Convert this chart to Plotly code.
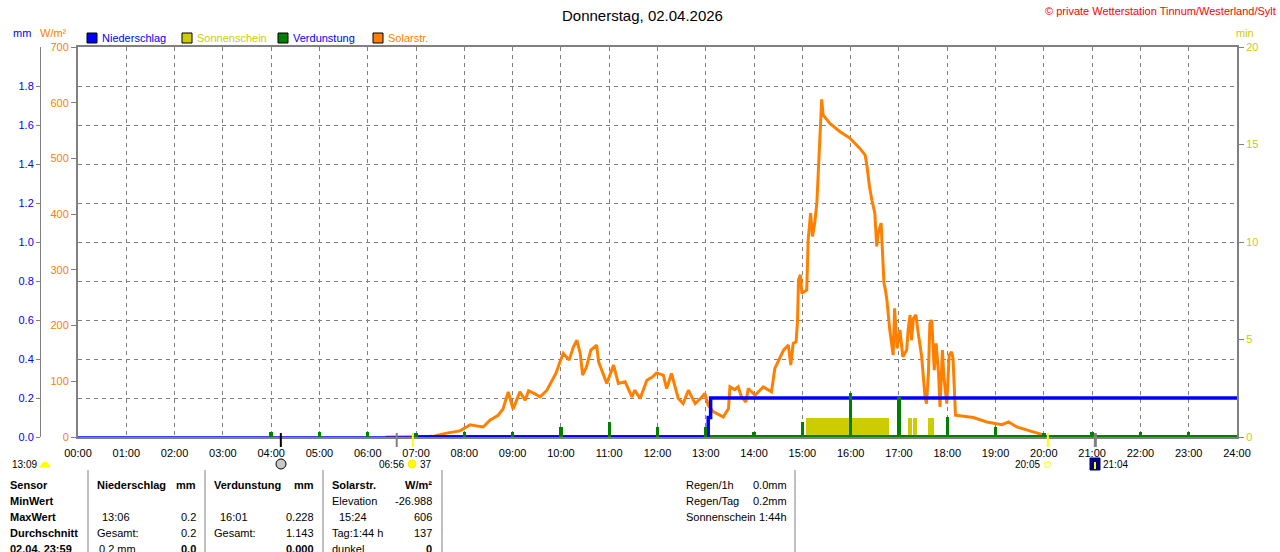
#!/usr/bin/env python3
"""
Tagesgrafik Niederschlag / Sonnenschein / Verdunstung / Solarstrahlung
(Wetterstation Tinnum/Westerland/Sylt) nachgebaut mit plotly.
"""

import plotly.graph_objects as go

# --- data --------------------------------------------------------------
hour_ticks = list(range(25))
hour_labels = [f"{h:02d}:00" for h in hour_ticks]

# Solarstrahlung W/m2 (time in hours)
solar_t = [6.37, 7.00, 7.25, 7.39, 7.63, 7.91, 8.12, 8.25, 8.39, 8.53, 8.70, 8.80,
           8.91, 9.01, 9.15, 9.26, 9.33, 9.45, 9.57, 9.71, 9.81, 9.90, 9.98, 10.05,
           10.17, 10.26, 10.33, 10.40, 10.45, 10.53, 10.62, 10.74, 10.78, 10.88, 10.95,
           11.09, 11.19, 11.33, 11.47, 11.53, 11.64, 11.78, 11.90, 11.98, 12.12, 12.19,
           12.29, 12.43, 12.53, 12.64, 12.78, 12.90, 12.98, 13.05, 13.16, 13.36, 13.47,
           13.50, 13.60, 13.67, 13.74, 13.83, 13.88, 14.02, 14.19, 14.36, 14.43, 14.61,
           14.71, 14.76, 14.81, 14.87, 14.90, 14.92, 14.96, 14.99, 15.09, 15.12, 15.17,
           15.21, 15.26, 15.30, 15.33, 15.37, 15.40, 15.43, 15.57, 15.78, 15.99, 16.19,
           16.30, 16.34, 16.39, 16.44, 16.50, 16.54, 16.57, 16.63, 16.66, 16.69, 16.72,
           16.75, 16.81, 16.88, 16.91, 16.96, 17.02, 17.08, 17.16, 17.19, 17.23, 17.26,
           17.30, 17.35, 17.40, 17.47, 17.54, 17.57, 17.61, 17.64, 17.68, 17.73, 17.77,
           17.82, 17.85, 17.90, 17.93, 17.99, 18.04, 18.09, 18.12, 18.15, 18.17, 18.26,
           18.54, 18.82, 19.13, 19.27, 19.44, 19.71, 19.99, 20.06]
solar_w = [0, 0, 1, 2, 7, 11, 22, 20, 18, 30, 39, 50,
           81, 50, 81, 66, 83, 78, 72, 84, 99, 115, 135, 150,
           138, 162, 174, 150, 111, 126, 156, 165, 135, 110, 96,
           129, 96, 99, 72, 84, 69, 102, 108, 115, 111, 87,
           114, 69, 60, 84, 60, 70, 78, 57, 45, 36, 51,
           90, 85, 90, 72, 63, 87, 75, 90, 81, 123, 156,
           165, 129, 168, 171, 210, 282, 291, 258, 264, 354, 402,
           360, 387, 420, 485, 563, 606, 578, 563, 548, 536, 518,
           506, 485, 449, 425, 402, 342, 366, 384, 318, 276, 264,
           246, 192, 147, 231, 159, 192, 144, 156, 192, 219, 174,
           213, 219, 186, 144, 72, 60, 114, 204, 210, 120, 168,
           114, 54, 156, 108, 60, 147, 153, 141, 84, 39, 38,
           35, 27, 22, 27, 18, 11, 4, 0]

# Niederschlag (Tagessumme, mm)
rain_t = [0.0, 7.0, 13.05, 13.10, 24.0]
rain_mm = [0.0, 0.0, 0.1, 0.2, 0.2]

# Verdunstung je Stunde (mm)
evap_hour = [4, 5, 6, 7, 8, 9, 10, 11, 12, 13, 14, 15, 16, 17, 18, 19, 20, 21, 22, 23]
evap_mm = [0.025, 0.025, 0.025, 0.022, 0.025, 0.027, 0.050, 0.076, 0.050, 0.050,
           0.024, 0.077, 0.228, 0.207, 0.105, 0.053, 0.020, 0.025, 0.025, 0.025]
evap_line_t = [7.0, 24.0]
evap_line_mm = [0.0, 0.0]

# Sonnenschein (min pro Minute)
sun_start = [15.07, 17.19, 17.30, 17.60]
sun_end = [16.79, 17.27, 17.37, 17.72]
sun_min = [1, 1, 1, 1]

mm_ticks = [0.0, 0.2, 0.4, 0.6, 0.8, 1.0, 1.2, 1.4, 1.6, 1.8]
w_ticks = [0, 100, 200, 300, 400, 500, 600, 700]
min_ticks = [0, 5, 10, 15, 20]

# events below the time axis (hours)
moon_h = 4.2
dawn_h = 6.6
sunrise_h = 6.933
sunset_h = 20.083
moonset_h = 21.067

BLUE = "#0000ff"
ORANGE = "#ff8000"
GREEN = "#008000"
YELLOW = "#cccc00"
GREY = "#808080"
FONT = "Liberation Sans"

W, H = 1280, 552
PLOT_TOP, PLOT_BOT = 47, 437


def px(x):
    return x / W


def py(y):
    return (PLOT_BOT - y) / (PLOT_BOT - PLOT_TOP)


fig = go.Figure()

# sunshine bars (base axis, bottom layer)
fig.add_trace(go.Bar(
    x=[(a + b) / 2 for a, b in zip(sun_start, sun_end)],
    y=sun_min,
    width=[b - a for a, b in zip(sun_start, sun_end)],
    marker=dict(color=YELLOW, line=dict(width=0)),
    xaxis="x", yaxis="y", name="Sonnenschein"))

# solar radiation
fig.add_trace(go.Scatter(
    x=solar_t, y=solar_w, mode="lines",
    line=dict(color=ORANGE, width=3),
    xaxis="x", yaxis="y2", name="Solarstr."))

# evaporation baseline + rain
fig.add_trace(go.Scatter(
    x=evap_line_t, y=evap_line_mm, mode="lines",
    line=dict(color=GREEN, width=4),
    xaxis="x", yaxis="y3", name="Verdunstung"))
fig.add_trace(go.Scatter(
    x=rain_t, y=rain_mm, mode="lines", line_shape="hv",
    line=dict(color=BLUE, width=1.5),
    xaxis="x", yaxis="y3", name="Niederschlag"))
fig.add_trace(go.Scatter(
    x=rain_t[1:], y=rain_mm[1:], mode="lines", line_shape="hv",
    line=dict(color=BLUE, width=3.5),
    xaxis="x", yaxis="y3", showlegend=False))

# evaporation spikes on top
fig.add_trace(go.Bar(
    x=evap_hour, y=evap_mm, width=0.07,
    marker=dict(color=GREEN, line=dict(width=0)),
    xaxis="x", yaxis="y4", name="Verdunstung"))

tickfont = dict(family=FONT, size=11)

fig.update_layout(
    width=W, height=H,
    margin=dict(l=0, r=0, t=PLOT_TOP, b=H - PLOT_BOT),
    paper_bgcolor="white", plot_bgcolor="white",
    showlegend=False, barmode="overlay", bargap=0,
    font=dict(family=FONT, size=11, color="black"),
    xaxis=dict(
        domain=[78 / W, 1237 / W], range=[0, 24],
        tickvals=hour_ticks, ticktext=hour_labels,
        tickfont=dict(family=FONT, size=11, color="black"),
        ticks="", ticklabelstandoff=5,
        showgrid=True, gridcolor=GREY, griddash="4px,4px", gridwidth=1,
        showline=True, linecolor=GREY, linewidth=2, mirror=True,
        zeroline=False, automargin=False, fixedrange=True),
    # Sonnenschein (min) right
    yaxis=dict(
        range=[0, 20], side="right", anchor="x",
        tickvals=min_ticks, ticktext=[str(v) for v in min_ticks],
        tickfont=dict(tickfont, color=YELLOW),
        ticks="outside", ticklen=5, tickcolor=GREY,
        showgrid=False, zeroline=False,
        showline=True, linecolor=GREY, linewidth=2,
        automargin=False, fixedrange=True),
    # Solarstr. W/m2 left at plot edge
    yaxis2=dict(
        range=[0, 700], side="left", anchor="x", overlaying="y",
        tickvals=w_ticks, ticktext=[str(v) for v in w_ticks],
        tickfont=dict(tickfont, color=ORANGE),
        ticks="outside", ticklen=5, tickcolor=GREY,
        showgrid=False, zeroline=False,
        showline=True, linecolor=GREY, linewidth=2,
        automargin=False, fixedrange=True),
    # mm axis, free position, carries the horizontal grid
    yaxis3=dict(
        range=[0, 2], side="left", anchor="free", position=40 / W, overlaying="y",
        tickvals=mm_ticks, ticktext=[f"{v:.1f}" for v in mm_ticks],
        tickfont=dict(tickfont, color=BLUE),
        ticks="outside", ticklen=4, tickcolor=GREY,
        showgrid=True, gridcolor=GREY, griddash="4px,4px", gridwidth=1,
        zeroline=False,
        showline=True, linecolor=GREY, linewidth=1,
        automargin=False, fixedrange=True),
    yaxis4=dict(
        range=[0, 2], overlaying="y", anchor="x", visible=False, fixedrange=True),
)

ann = []


def txt(x, y, s, color="black", size=11, anchor="left", bold=False):
    if bold:
        s = f"<b>{s}</b>"
    ann.append(dict(x=px(x), y=py(y), xref="paper", yref="paper", text=s,
                    showarrow=False, xanchor=anchor, yanchor="middle",
                    font=dict(family=FONT, size=size, color=color)))


# title + copyright
txt(642, 15, "Donnerstag, 02.04.2026", size=15, anchor="center")
txt(1278, 11, "© private Wetterstation Tinnum/Westerland/Sylt", color="#ff0000", anchor="right")

# axis units
txt(22, 33, "mm", color=BLUE, anchor="center")
txt(53, 33, "W/m²", color=ORANGE, anchor="center")
txt(1245, 33, "min", color=YELLOW, anchor="center")

# legend
shapes = []
legend_items = [(87, "Niederschlag", BLUE, BLUE),
                (182, "Sonnenschein", YELLOW, YELLOW),
                (278, "Verdunstung", GREEN, BLUE),
                (373, "Solarstr.", ORANGE, ORANGE)]
for lx, name, box, tcol in legend_items:
    shapes.append(dict(type="rect", xref="paper", yref="paper",
                       x0=px(lx), x1=px(lx + 10), y0=py(43), y1=py(33),
                       fillcolor=box, line=dict(color="black", width=1)))
    txt(lx + 13, 38, name, color=tcol)

# event ticks below the axis
for h, col, wdt in [(moon_h, "black", 2), (dawn_h, GREY, 2), (sunrise_h, "#ffff00", 2),
                    (sunset_h, "#ffff00", 2), (moonset_h, GREY, 3)]:
    shapes.append(dict(type="line", xref="x", yref="paper", x0=h, x1=h,
                       y0=py(433), y1=py(447), line=dict(color=col, width=wdt)))

# marker row
MR = 464
txt(10, MR, "13:09", size=10)
shapes.append(dict(type="path", xref="paper", yref="paper",
                   path=f"M{px(40)},{py(467)} Q{px(45)},{py(457)} {px(50)},{py(467)} Z",
                   fillcolor="#ffff00", line=dict(color="#ffff00", width=1)))
shapes.append(dict(type="circle", xref="paper", yref="paper",
                   x0=px(276), x1=px(286), y0=py(469), y1=py(459),
                   fillcolor="#c8c8c8", line=dict(color="black", width=1)))
txt(406, MR, "06:56", anchor="right", size=10)
shapes.append(dict(type="circle", xref="paper", yref="paper",
                   x0=px(408), x1=px(416), y0=py(468), y1=py(460),
                   fillcolor="#ffff00", line=dict(color="#ffee00", width=1)))
txt(418, MR, "37", size=10)
txt(1042, MR, "20:05", anchor="right", size=10)
shapes.append(dict(type="rect", xref="paper", yref="paper",
                   x0=px(1045), x1=px(1050), y0=py(467), y1=py(462),
                   fillcolor="white", line=dict(color="#ffff00", width=1)))
shapes.append(dict(type="rect", xref="paper", yref="paper",
                   x0=px(1090), x1=px(1100), y0=py(470), y1=py(458),
                   fillcolor="#000080", line=dict(color="#000080", width=1)))
shapes.append(dict(type="line", xref="paper", yref="paper",
                   x0=px(1095), x1=px(1095), y0=py(469), y1=py(462),
                   line=dict(color="#ffff00", width=2)))
txt(1101, MR, "21:04", size=10)

# table separators
for lx in [88, 205, 323, 442, 795]:
    shapes.append(dict(type="line", xref="paper", yref="paper",
                       x0=px(lx), x1=px(lx), y0=py(470), y1=py(552),
                       line=dict(color=GREY, width=1)))

rows = [485, 501, 517, 533, 549]
for r, s in zip(rows, ["Sensor", "MinWert", "MaxWert", "Durchschnitt", "02.04. 23:59"]):
    txt(8, r, s, bold=True)

txt(95, rows[0], "Niederschlag", bold=True)
txt(198, rows[0], "mm", anchor="right", bold=True)
txt(100, rows[2], "13:06")
txt(198, rows[2], "0.2", anchor="right")
txt(95, rows[3], "Gesamt:")
txt(198, rows[3], "0.2", anchor="right")
txt(97, rows[4], "0.2 mm")
txt(198, rows[4], "0.0", anchor="right", bold=True)

txt(212, rows[0], "Verdunstung", bold=True)
txt(316, rows[0], "mm", anchor="right", bold=True)
txt(218, rows[2], "16:01")
txt(316, rows[2], "0.228", anchor="right")
txt(212, rows[3], "Gesamt:")
txt(316, rows[3], "1.143", anchor="right")
txt(316, rows[4], "0.000", anchor="right", bold=True)

txt(330, rows[0], "Solarstr.", bold=True)
txt(434, rows[0], "W/m²", anchor="right", bold=True)
txt(330, rows[1], "Elevation")
txt(434, rows[1], "-26.988", anchor="right")
txt(337, rows[2], "15:24")
txt(434, rows[2], "606", anchor="right")
txt(330, rows[3], "Tag:1:44 h")
txt(434, rows[3], "137", anchor="right")
txt(330, rows[4], "dunkel")
txt(434, rows[4], "0", anchor="right", bold=True)

for r, a, b in [(rows[0], "Regen/1h", "0.0mm"),
                (rows[1], "Regen/Tag", "0.2mm"),
                (rows[2], "Sonnenschein", "1:44h")]:
    txt(684, r, a)
    txt(789, r, b, anchor="right")

fig.update_layout(annotations=ann, shapes=shapes)

# the page body has an 8px default margin; remove it so the figure fills the window
fig.write_html("out.html", config={"displayModeBar": False},
               post_script="document.body.style.margin='0';")
